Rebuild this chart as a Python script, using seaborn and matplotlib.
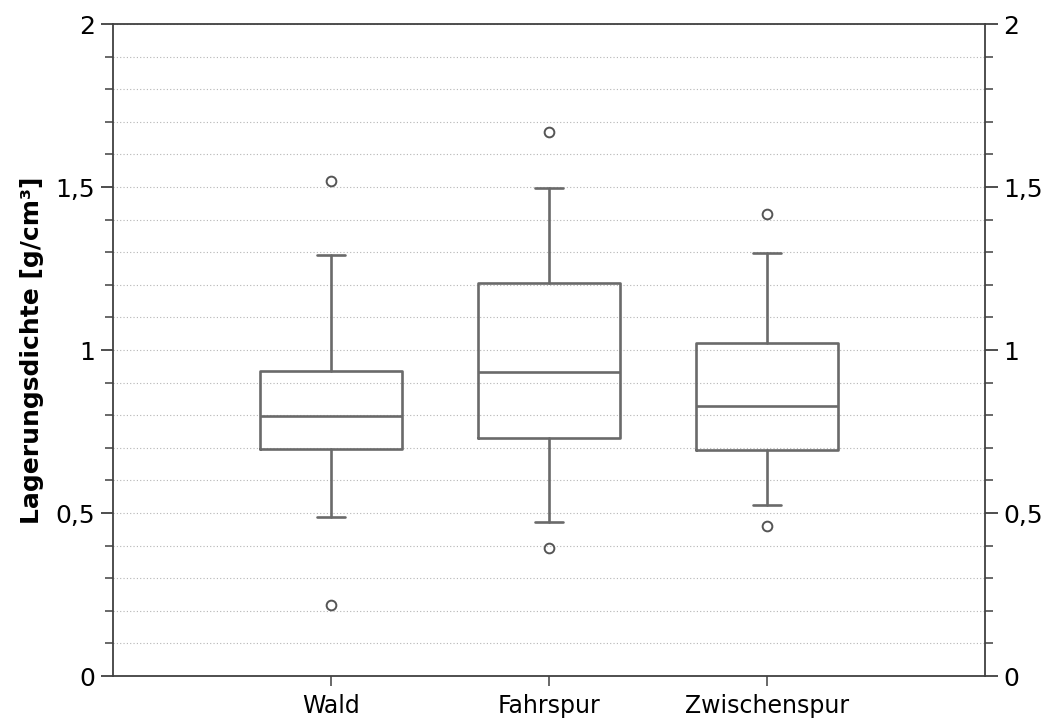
import matplotlib
matplotlib.use("Agg")
import matplotlib.pyplot as plt
import seaborn as sns
from matplotlib.ticker import MultipleLocator, FuncFormatter

categories = ["Wald", "Fahrspur", "Zwischenspur"]
whisker_low = [0.488, 0.472, 0.525]
q1 = [0.696, 0.730, 0.693]
median = [0.798, 0.933, 0.828]
q3 = [0.936, 1.207, 1.021]
whisker_high = [1.290, 1.497, 1.298]
outliers = [[1.518, 0.218], [1.669, 0.393], [1.417, 0.460]]
ylabel = "Lagerungsdichte [g/cm³]"

sns.set_style("white")
plt.rcParams["font.family"] = ["DejaVu Sans"]
plt.rcParams["text.color"] = "black"
plt.rcParams["axes.labelcolor"] = "black"
plt.rcParams["xtick.labelcolor"] = "black"
plt.rcParams["ytick.labelcolor"] = "black"

fig = plt.figure(figsize=(10.48, 7.2), dpi=100)
ax = fig.add_axes([113/1048, 1 - 676/720, (985-113)/1048, (676-24)/720])

stats = []
for i, c in enumerate(categories):
    stats.append(dict(label=c, whislo=whisker_low[i], q1=q1[i], med=median[i],
                      q3=q3[i], whishi=whisker_high[i], fliers=outliers[i]))

col = "#6a6a6a"
lw = 1.9
ax.bxp(stats, positions=[1, 2, 3], widths=0.65, showfliers=True, patch_artist=False,
       boxprops=dict(color=col, linewidth=lw),
       medianprops=dict(color=col, linewidth=lw),
       whiskerprops=dict(color=col, linewidth=lw),
       capprops=dict(color=col, linewidth=lw),
       flierprops=dict(marker="o", markersize=7, markerfacecolor="none",
                       markeredgecolor="#555555", markeredgewidth=1.4),
       capwidths=0.13)

ax.set_xlim(0, 4)
ax.set_ylim(0, 2)
ax.yaxis.set_major_locator(MultipleLocator(0.5))
ax.yaxis.set_minor_locator(MultipleLocator(0.1))
ax.yaxis.set_major_formatter(FuncFormatter(lambda v, p: ("%g" % v).replace(".", ",")))
ax.set_xticks([1, 2, 3])
ax.set_xticklabels(categories)

ax.grid(True, which="both", axis="y", linestyle=(0, (1, 2)), color="#b5b5b5", linewidth=0.8)
ax.grid(False, axis="x")
ax.set_axisbelow(True)

for s in ax.spines.values():
    s.set_color("#404040")
    s.set_linewidth(1.3)
    s.set_visible(True)

ax.tick_params(axis="y", which="major", direction="out", length=9, width=1.3, color="#404040",
               left=True, right=True, labelleft=True, labelright=True, labelsize=18, pad=4)
ax.tick_params(axis="y", which="minor", direction="out", length=5.5, width=1.1, color="#404040",
               left=True, right=True)
ax.tick_params(axis="x", which="major", direction="out", length=7, width=1.1, color="#404040",
               bottom=True, labelsize=17, pad=6)
ax.tick_params(axis="x", which="minor", bottom=False)

ax.set_ylabel(ylabel, fontsize=18, fontweight="bold", labelpad=8)

fig.savefig("out.png", dpi=100)
